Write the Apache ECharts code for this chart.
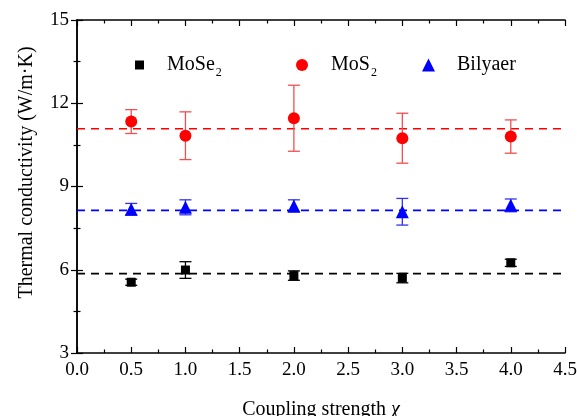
<!DOCTYPE html>
<html><head><meta charset="utf-8">
<script src="https://cdn.jsdelivr.net/npm/echarts@6/dist/echarts.min.js"></script>
<style>html,body{margin:0;padding:0;background:#fff}#c{width:577px;height:416px}</style>
</head><body><div id="c"></div>
<script>
const chi = [0.5, 1.0, 2.0, 3.0, 4.0];
const moSe2 = [5.55, 5.99, 5.79, 5.70, 6.25];
const moSe2Err = [0.11, 0.30, 0.17, 0.17, 0.13];
const moS2 = [11.34, 10.83, 11.46, 10.74, 10.80];
const moS2Err = [0.43, 0.86, 1.19, 0.90, 0.60];
const bilayer = [8.18, 8.25, 8.30, 8.09, 8.32];
const bilayerErr = [0.21, 0.27, 0.22, 0.48, 0.23];
const avgLines = [5.86, 11.08, 8.14];
const seriesNames = ['MoSe2', 'MoS2', 'Bilyaer'];
const xTicks = [0, 4.5, 0.5];
const yTicks = [3, 15, 3];

const font = '"Liberation Serif","Times New Roman",serif';
const chart = echarts.init(document.getElementById('c'));

function pts(vals) { return chi.map((x, i) => [x, vals[i]]); }
function errData(vals, errs) { return chi.map((x, i) => [x, vals[i] - errs[i], vals[i] + errs[i]]); }
function errSeries(vals, errs, color) {
  return {
    type: 'custom', data: errData(vals, errs), z: 2, silent: true,
    renderItem: function (params, api) {
      const lo = api.coord([api.value(0), api.value(1)]);
      const hi = api.coord([api.value(0), api.value(2)]);
      const w = 6;
      const st = { stroke: color, lineWidth: 1.3 };
      return { type: 'group', children: [
        { type: 'line', shape: { x1: lo[0], y1: lo[1], x2: hi[0], y2: hi[1] }, style: st },
        { type: 'line', shape: { x1: hi[0] - w, y1: hi[1], x2: hi[0] + w, y2: hi[1] }, style: st },
        { type: 'line', shape: { x1: lo[0] - w, y1: lo[1], x2: lo[0] + w, y2: lo[1] }, style: st }
      ]};
    }
  };
}
function dashLine(v, color) {
  return { type: 'line', data: [[xTicks[0], v], [xTicks[1], v]], symbol: 'none', silent: true, z: 1,
    lineStyle: { color: color, width: 1.6, type: [8, 6] } };
}
const rich = { n: { fontFamily: font, fontSize: 20, color: '#000' }, s: { fontFamily: font, fontSize: 12, color: '#000', verticalAlign: 'bottom', padding: [15, 0, 0, 1] } };
function legendFmt(name) {
  if (name === 'MoSe2') return '{n|MoSe}{s|2}';
  if (name === 'MoS2') return '{n|MoS}{s|2}';
  return '{n|' + name + '}';
}
function mkLegend(name, left, size, pad) {
  return { data: [name], left: left, top: 50, itemWidth: size, itemHeight: size, formatter: legendFmt,
    textStyle: { rich: rich, padding: [0, 0, 0, pad] }, selectedMode: false };
}
const axisLine = { show: true, lineStyle: { color: '#000', width: 1.5 } };
const tick = { show: true, inside: true, length: 6, lineStyle: { color: '#000', width: 1.2 } };
const minor = { show: true, splitNumber: 2, length: 3.5, lineStyle: { color: '#000', width: 1.2 } };

chart.setOption({
  animation: false,
  backgroundColor: '#fff',
  grid: { left: 77, right: 12, top: 20, bottom: 63, containLabel: false, outerBoundsMode: 'none' },
  legend: [mkLegend(seriesNames[0], 130, 9, 18), mkLegend(seriesNames[1], 291, 12, 18), mkLegend(seriesNames[2], 417, 13, 17)],
  xAxis: [
    { type: 'value', min: xTicks[0], max: xTicks[1], interval: xTicks[2], position: 'bottom',
      axisLine: axisLine, axisTick: tick, minorTick: minor, splitLine: { show: false },
      axisLabel: { fontFamily: font, fontSize: 19, color: '#000', margin: 8, formatter: v => v.toFixed(1) },
      name: 'Coupling strength {i|χ}', nameLocation: 'middle', nameGap: 47,
      nameTextStyle: { fontFamily: font, fontSize: 20, color: '#000', rich: { i: { fontFamily: font, fontStyle: 'italic', fontSize: 20, color: '#000' } } } },
    { type: 'value', min: xTicks[0], max: xTicks[1], interval: xTicks[2], position: 'top',
      axisLine: axisLine, axisTick: tick, minorTick: minor, splitLine: { show: false }, axisLabel: { show: false } }
  ],
  yAxis: [
    { type: 'value', min: yTicks[0], max: yTicks[1], interval: yTicks[2], position: 'left',
      axisLine: axisLine, axisTick: tick, minorTick: minor, splitLine: { show: false },
      axisLabel: { fontFamily: font, fontSize: 19, color: '#000', margin: 8 },
      name: 'Thermal conductivity (W/m·K)', nameLocation: 'middle', nameGap: 40, nameRotate: 90,
      nameTextStyle: { fontFamily: font, fontSize: 20, color: '#000', padding: [0, 0, 0, 28] } },
    { type: 'value', min: yTicks[0], max: yTicks[1], interval: yTicks[2], position: 'right',
      axisLine: axisLine, axisTick: tick, minorTick: minor, splitLine: { show: false }, axisLabel: { show: false } }
  ],
  series: [
    dashLine(avgLines[0], '#000'),
    dashLine(avgLines[1], '#ff0000'),
    dashLine(avgLines[2], '#0000ff'),
    errSeries(moSe2, moSe2Err, '#000'),
    errSeries(moS2, moS2Err, '#f05050'),
    errSeries(bilayer, bilayerErr, '#3333ee'),
    { name: seriesNames[0], type: 'scatter', data: pts(moSe2), symbol: 'rect', symbolSize: 9, z: 3, itemStyle: { color: '#000', opacity: 1 } },
    { name: seriesNames[1], type: 'scatter', data: pts(moS2), symbol: 'circle', symbolSize: 12, z: 3, itemStyle: { color: '#ff0000', opacity: 1 } },
    { name: seriesNames[2], type: 'scatter', data: pts(bilayer), symbol: 'triangle', symbolSize: 13, z: 3, itemStyle: { color: '#0000ff', opacity: 1 } }
  ]
});
</script></body></html>
